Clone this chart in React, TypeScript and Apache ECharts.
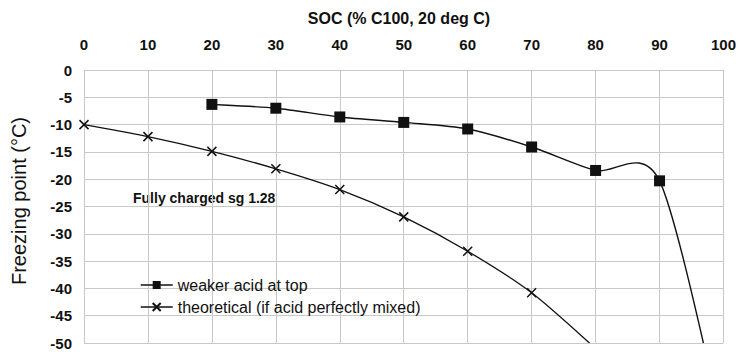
import React, { useEffect, useRef } from "react";
import * as echarts from "echarts";

const xTicks = [0, 10, 20, 30, 40, 50, 60, 70, 80, 90, 100];
const weakerSOC = [20, 30, 40, 50, 60, 70, 80, 90, 100];
const weakerFP = [-6.3, -7.0, -8.6, -9.6, -10.8, -14.1, -18.4, -20.3, -66];
const theoSOC = [0, 10, 20, 30, 40, 50, 60, 70, 80];
const theoFP = [-10.0, -12.2, -14.9, -18.1, -21.9, -26.9, -33.2, -40.8, -51];

const FONT = "'Liberation Sans', Arial, sans-serif";
const CROSS = "path://M0,0L10,10M10,0L0,10";
const INK = "#111";
const TENSION = 0.14;

// Excel-like smoothed segment (cardinal spline -> cubic Bezier) drawn via the axes' scales
function splineRenderer(xs: number[], ys: number[], width: number) {
  return (params: any, api: any) => {
    const i = params.dataIndex;
    const n = xs.length;
    if (i >= n - 1) return null;
    const pt = (k: number) => {
      const kk = Math.max(0, Math.min(n - 1, k));
      return api.coord([xs[kk], ys[kk]]);
    };
    const p0 = pt(i - 1);
    const p1 = pt(i);
    const p2 = pt(i + 1);
    const p3 = pt(i + 2);
    const cp1 = [p1[0] + (p2[0] - p0[0]) * TENSION, p1[1] + (p2[1] - p0[1]) * TENSION];
    const cp2 = [p2[0] - (p3[0] - p1[0]) * TENSION, p2[1] - (p3[1] - p1[1]) * TENSION];
    return {
      type: "bezierCurve",
      shape: {
        x1: p1[0], y1: p1[1], x2: p2[0], y2: p2[1],
        cpx1: cp1[0], cpy1: cp1[1], cpx2: cp2[0], cpy2: cp2[1],
      },
      style: { stroke: INK, lineWidth: width, fill: "none" },
      silent: true,
    };
  };
}

export default function App() {
  const ref = useRef<HTMLDivElement>(null);
  useEffect(() => {
    if (!ref.current) return;
    const chart = echarts.init(ref.current, undefined, { renderer: "svg" });
    const weakerData = weakerSOC.map((x, i) => [x, weakerFP[i]]);
    const theoData = theoSOC.map((x, i) => [x, theoFP[i]]);
    chart.setOption({
      animation: false,
      backgroundColor: "#ffffff",
      grid: { left: 84, right: 12.5, top: 70, bottom: 9, containLabel: false },
      xAxis: {
        type: "value",
        position: "top",
        min: xTicks[0],
        max: xTicks[xTicks.length - 1],
        interval: 10,
        axisLine: { show: false },
        axisTick: { show: false },
        axisLabel: { fontFamily: FONT, fontSize: 15, fontWeight: "bold", color: INK, margin: 18 },
        splitLine: { show: true, lineStyle: { color: "#c8c8c8", width: 1 } },
      },
      yAxis: {
        type: "value",
        min: -50,
        max: 0,
        interval: 5,
        axisLine: { show: false },
        axisTick: { show: false },
        axisLabel: { fontFamily: FONT, fontSize: 15, fontWeight: "bold", color: INK, margin: 12 },
        splitLine: { show: true, lineStyle: { color: "#c8c8c8", width: 1 } },
      },
      legend: {
        orient: "vertical",
        left: 135,
        top: 272,
        itemWidth: 32,
        itemHeight: 10,
        itemGap: 6,
        textStyle: { fontFamily: FONT, fontSize: 16, color: INK },
        data: [
          { name: "weaker acid at top", lineStyle: { color: INK, width: 1.4, opacity: 1 } },
          { name: "theoretical (if acid perfectly mixed)", lineStyle: { color: INK, width: 1.3, opacity: 1 } },
        ],
      },
      series: [
        {
          name: "weaker acid at top",
          type: "line",
          clip: true,
          data: weakerData,
          symbol: "rect",
          symbolSize: 11,
          lineStyle: { color: INK, width: 1.4, opacity: 0 },
          itemStyle: { color: INK },
          z: 3,
        },
        {
          name: "theoretical (if acid perfectly mixed)",
          type: "line",
          clip: true,
          data: theoData,
          symbol: CROSS,
          symbolSize: 9,
          lineStyle: { color: INK, width: 1.3, opacity: 0 },
          itemStyle: { color: INK, borderColor: INK, borderWidth: 1.5 },
          z: 3,
        },
        {
          type: "custom",
          clip: true,
          data: weakerData,
          renderItem: splineRenderer(weakerSOC, weakerFP, 1.4),
          z: 2,
        },
        {
          type: "custom",
          clip: true,
          data: theoData,
          renderItem: splineRenderer(theoSOC, theoFP, 1.3),
          z: 2,
        },
      ],
      graphic: [
        {
          type: "text",
          x: 399,
          y: 18,
          style: {
            text: "SOC (% C100, 20 deg C)",
            font: `bold 16px ${FONT}`,
            fill: INK,
            textAlign: "center",
            textVerticalAlign: "middle",
          },
        },
        {
          type: "text",
          x: 19,
          y: 201,
          rotation: Math.PI / 2,
          style: {
            text: "Freezing point (°C)",
            font: `20px ${FONT}`,
            fill: INK,
            textAlign: "center",
            textVerticalAlign: "middle",
          },
        },
        {
          type: "text",
          x: 133,
          y: 198,
          style: {
            text: "Fully charged sg 1.28",
            font: `bold 14px ${FONT}`,
            fill: INK,
            textAlign: "left",
            textVerticalAlign: "middle",
          },
        },
      ],
    });
    return () => chart.dispose();
  }, []);
  return (
    <div
      ref={ref}
      style={{ position: "absolute", left: 0, top: 0, width: 739, height: 352 }}
    />
  );
}
